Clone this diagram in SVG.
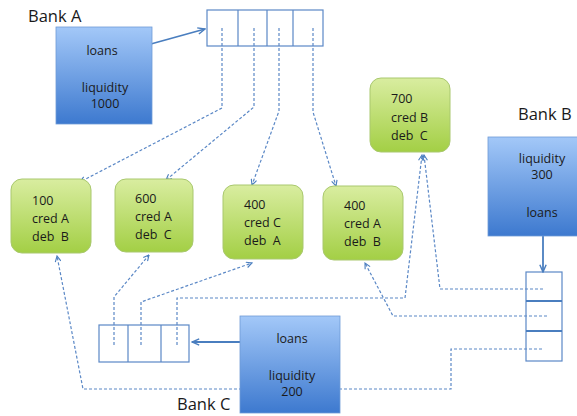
<svg xmlns="http://www.w3.org/2000/svg" width="577" height="416" viewBox="0 0 577 416">
  <defs>
    <linearGradient id="bankFill" x1="0" y1="0" x2="0" y2="1">
      <stop offset="0" stop-color="#a3c8f8"/>
      <stop offset="1" stop-color="#3d79cf"/>
    </linearGradient>
    <linearGradient id="claimFill" x1="0" y1="0" x2="0" y2="1">
      <stop offset="0" stop-color="#d9eda0"/>
      <stop offset="1" stop-color="#a3cf45"/>
    </linearGradient>
    <marker id="openArrow" viewBox="0 0 10 10" refX="9" refY="5" markerWidth="7" markerHeight="7" orient="auto" markerUnits="userSpaceOnUse">
      <path d="M1,1 L9,5 L1,9" fill="none" stroke="#4a7ebf" stroke-width="1.6"/>
    </marker>
    <marker id="solidArrow" viewBox="0 0 10 10" refX="9" refY="5" markerWidth="9" markerHeight="9" orient="auto" markerUnits="userSpaceOnUse">
      <path d="M1,1.5 L9,5 L1,8.5" fill="none" stroke="#4a7ebf" stroke-width="1.6"/>
    </marker>
  </defs>
  <style>
    .bank { fill: url(#bankFill); stroke: #6f9bd6; stroke-width: 0.8; }
    .claim { fill: url(#claimFill); stroke: #a9c86e; stroke-width: 1; }
    .cells { fill: none; stroke: #5b88c6; stroke-width: 1.2; }
    .split { fill: none; stroke: #4a7ebf; stroke-width: 2.2; }
    .flow { fill: none; stroke: #5b88c6; stroke-width: 1.2; stroke-dasharray: 3 2; marker-end: url(#openArrow); }
    .feed { fill: none; stroke: #4a7ebf; stroke-width: 1.8; marker-end: url(#solidArrow); }
    text { font-family: "Open Sans", "Liberation Sans", sans-serif; fill: #1a1a1a; white-space: pre; }
    .t { font-size: 12.5px; }
    .title { font-size: 16.5px; }
    .c { text-anchor: middle; }
  </style>

  <rect width="577" height="416" fill="#ffffff"/>

  <!-- loan arrays (outline only, so the dashed claims show inside the cells) -->
  <g id="loansA">
    <rect class="cells" x="207" y="10" width="116" height="36"/>
    <path class="cells" d="M238,10 V46 M267,10 V46 M293,10 V46"/>
  </g>
  <g id="loansB">
    <rect class="cells" x="526" y="272" width="36" height="89"/>
    <path class="split" d="M526,301 H562 M526,331 H562"/>
  </g>
  <g id="loansC">
    <rect class="cells" x="99" y="325" width="90" height="37"/>
    <path class="cells" d="M128,325 V362 M161,325 V362"/>
  </g>

  <!-- settlement connectors (drawn before the bank boxes so they sit on top) -->
  <g id="connectors">
    <!-- Bank A loans out to claims -->
    <path class="flow" d="M222,28 L222,108 L80,182"/>
    <path class="flow" d="M254,28 L254,107 L166,180"/>
    <path class="flow" d="M279,28 L279,111 L252,185"/>
    <path class="flow" d="M313,28 L313,112 L336,186"/>
    <!-- Bank C loans out to claims -->
    <path class="flow" d="M114,345 L114,297 L149,255"/>
    <path class="flow" d="M141,345 L141,302 L252,263"/>
    <path class="flow" d="M177,345 L177,298 L405,298 L422,155"/>
    <!-- Bank B loans out to claims -->
    <path class="flow" d="M543,289 L440,289 L424,155"/>
    <path class="flow" d="M547,316 L393,316 L365,263"/>
    <path class="flow" d="M542,349 L451,349 L451,389 L83,389 L57,256"/>
    <!-- bank balance sheets into their loan arrays -->
    <path class="feed" d="M140,47 L205,29"/>
    <path class="feed" d="M543,222 L543,272"/>
    <path class="feed" d="M253,342 L192,342"/>
  </g>

  <!-- Bank A -->
  <g id="bankA">
    <text class="title" x="28" y="22">Bank A</text>
    <rect class="bank" x="56" y="27" width="96" height="97"/>
    <text class="t c" x="102" y="55">loans</text>
    <text class="t c" x="105" y="92">liquidity</text>
    <text class="t c" x="105" y="108">1000</text>
  </g>

  <!-- Bank B -->
  <g id="bankB">
    <text class="title" x="518" y="120">Bank B</text>
    <rect class="bank" x="488" y="137" width="95" height="99"/>
    <text class="t c" x="542" y="163">liquidity</text>
    <text class="t c" x="542" y="179">300</text>
    <text class="t c" x="542" y="217">loans</text>
  </g>

  <!-- Bank C -->
  <g id="bankC">
    <rect class="bank" x="240" y="316" width="100" height="97"/>
    <text class="t c" x="292" y="343">loans</text>
    <text class="t c" x="292" y="380">liquidity</text>
    <text class="t c" x="292" y="396">200</text>
    <text class="title" x="177" y="410">Bank C</text>
  </g>

  <!-- claims -->
  <g id="claim100AB">
    <rect class="claim" x="11" y="179" width="80" height="74" rx="11"/>
    <text class="t" x="32" y="205">100</text>
    <text class="t" x="32" y="223">cred A</text>
    <text class="t" x="32" y="241">deb  B</text>
  </g>
  <g id="claim600AC">
    <rect class="claim" x="115" y="179" width="78" height="73" rx="11"/>
    <text class="t" x="135" y="203">600</text>
    <text class="t" x="135" y="221">cred A</text>
    <text class="t" x="135" y="239">deb  C</text>
  </g>
  <g id="claim400CA">
    <rect class="claim" x="223" y="185" width="80" height="74" rx="11"/>
    <text class="t" x="244" y="209">400</text>
    <text class="t" x="244" y="227">cred C</text>
    <text class="t" x="244" y="245">deb  A</text>
  </g>
  <g id="claim400AB">
    <rect class="claim" x="323" y="186" width="80" height="74" rx="11"/>
    <text class="t" x="344" y="210">400</text>
    <text class="t" x="344" y="228">cred A</text>
    <text class="t" x="344" y="246">deb  B</text>
  </g>
  <g id="claim700BC">
    <rect class="claim" x="370" y="78" width="80" height="74" rx="11"/>
    <text class="t" x="391" y="103">700</text>
    <text class="t" x="391" y="122">cred B</text>
    <text class="t" x="391" y="140">deb  C</text>
  </g>
</svg>
